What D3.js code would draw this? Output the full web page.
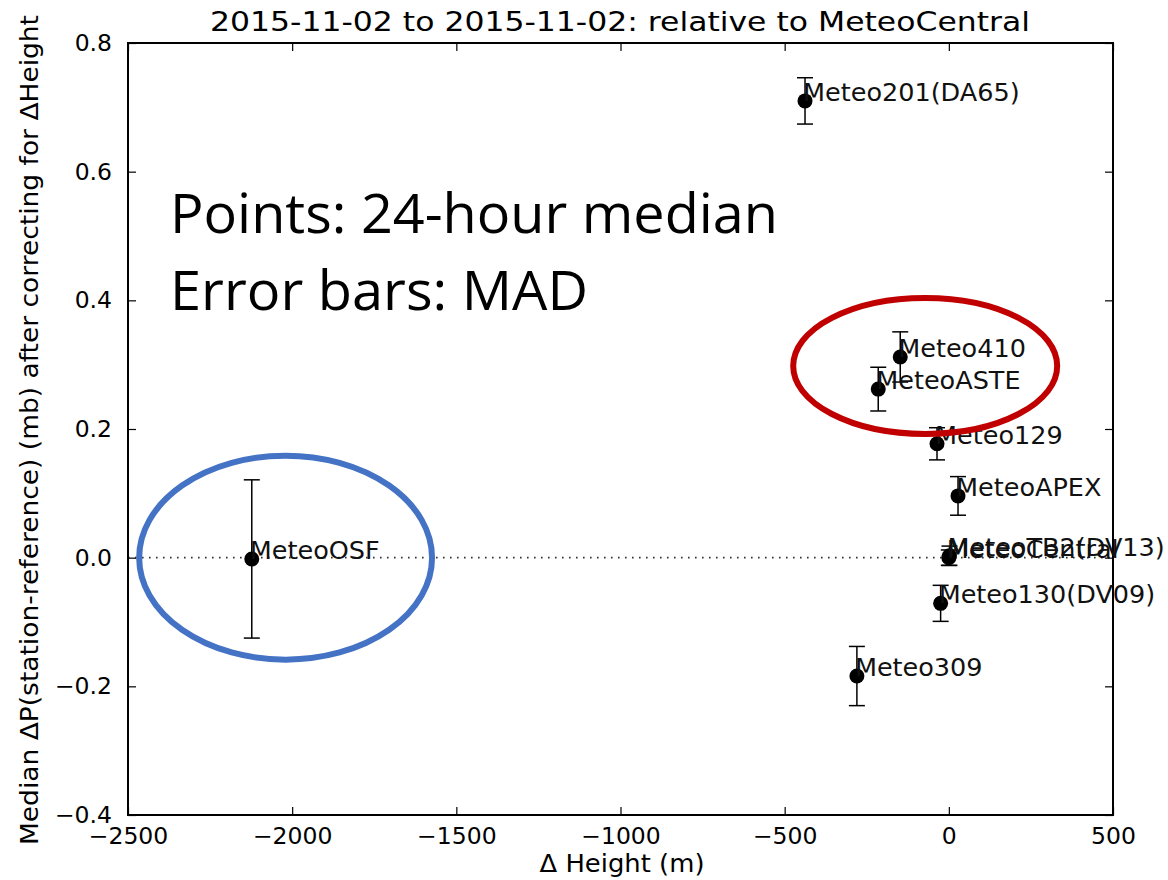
<!DOCTYPE html>
<html>
<head>
<meta charset="utf-8">
<script src="https://cdn.jsdelivr.net/npm/d3@7"></script>
<style>
  body { margin: 0; background: #fff; }
  svg { display: block; }
</style>
</head>
<body>
<svg width="1168" height="880"></svg>
<script>

// station data
var stations = ["Meteo201(DA65)", "Meteo410", "MeteoASTE", "Meteo129", "MeteoAPEX",
                "MeteoTB2(DV13)", "MeteoCentral", "Meteo130(DV09)", "Meteo309", "MeteoOSF"];
var dHeight = [-438, -148, -215, -36, 28, 2, 0, -25, -280, -2123];
var dPress  = [0.710, 0.312, 0.262, 0.177, 0.096, 0.003, 0.0, -0.071, -0.184, -0.002];
var mad     = [0.036, 0.039, 0.034, 0.025, 0.030, 0.015, 0.012, 0.028, 0.046, 0.123];

var xTicks = [-2500, -2000, -1500, -1000, -500, 0, 500];
var yTicks = [-0.4, -0.2, 0.0, 0.2, 0.4, 0.6, 0.8];

// highlight ellipses, in data units: [cx, cy, rx, ry]
var ellipseNames = ["group", "osf"];
var ellipseShape = [[-72, 0.298, 402, 0.1057], [-2020, 0.0, 446, 0.1585]];
var ellipseColor = ["#c00000", "#4472c4"];

var notes = ["Points: 24-hour median", "Error bars: MAD"];

var svg = d3.select("svg"),
    width = +svg.attr("width"),
    height = +svg.attr("height");

var margin = {top: 43, right: 55, bottom: 65, left: 128};

var x = d3.scaleLinear().domain([-2500, 500]).range([margin.left, width - margin.right]);
var y = d3.scaleLinear().domain([-0.4, 0.8]).range([height - margin.bottom, margin.top]);

var font = "DejaVu Sans, sans-serif";
var minus = function(s) { return s.replace("-", "\u2212"); };

var data = stations.map(function(s, i) {
  return {name: s, dh: dHeight[i], dp: dPress[i], err: mad[i]};
});

// zero reference line
svg.append("line")
    .attr("x1", x(-2500)).attr("x2", x(500))
    .attr("y1", y(0)).attr("y2", y(0))
    .attr("stroke", "#333")
    .attr("stroke-width", 1.6)
    .attr("stroke-dasharray", "1.6,5.4");

// axes, matplotlib style: ticks inside on all four sides
var tickLen = 8;
var xAxisB = d3.axisBottom(x).tickValues(xTicks).tickSizeInner(-tickLen).tickSizeOuter(0)
    .tickPadding(12).tickFormat(function(d) { return minus(String(d)); });
var xAxisT = d3.axisTop(x).tickValues(xTicks).tickSizeInner(-tickLen).tickSizeOuter(0).tickFormat("");
var yAxisL = d3.axisLeft(y).tickValues(yTicks).tickSizeInner(-tickLen).tickSizeOuter(0)
    .tickPadding(16).tickFormat(function(d) { return minus(d3.format(".1f")(d)); });
var yAxisR = d3.axisRight(y).tickValues(yTicks).tickSizeInner(-tickLen).tickSizeOuter(0).tickFormat("");

var gxb = svg.append("g").attr("transform", "translate(0," + y.range()[0] + ")").call(xAxisB);
var gxt = svg.append("g").attr("transform", "translate(0," + y.range()[1] + ")").call(xAxisT);
var gyl = svg.append("g").attr("transform", "translate(" + x.range()[0] + ",0)").call(yAxisL);
var gyr = svg.append("g").attr("transform", "translate(" + x.range()[1] + ",0)").call(yAxisR);

[gxb, gxt, gyl, gyr].forEach(function(g) {
  g.select(".domain").remove();
  g.selectAll(".tick line").attr("stroke", "#000").attr("stroke-width", 1.2);
  g.selectAll(".tick text")
      .attr("font-family", font)
      .attr("font-size", 23.5)
      .attr("fill", "#000");
});
gxb.selectAll(".tick text").attr("dy", "0.71em");

// frame
svg.append("rect")
    .attr("x", x.range()[0]).attr("y", y.range()[1])
    .attr("width", x.range()[1] - x.range()[0])
    .attr("height", y.range()[0] - y.range()[1])
    .attr("fill", "none")
    .attr("stroke", "#000")
    .attr("stroke-width", 2);

// error bars
var capW = 8;
var eb = svg.append("g").attr("class", "errorbars")
  .selectAll("g")
  .data(data)
  .enter().append("g");

eb.append("line")
    .attr("x1", function(d) { return x(d.dh); })
    .attr("x2", function(d) { return x(d.dh); })
    .attr("y1", function(d) { return y(d.dp + d.err); })
    .attr("y2", function(d) { return y(d.dp - d.err); });
eb.append("line")
    .attr("x1", function(d) { return x(d.dh) - capW; })
    .attr("x2", function(d) { return x(d.dh) + capW; })
    .attr("y1", function(d) { return y(d.dp + d.err); })
    .attr("y2", function(d) { return y(d.dp + d.err); });
eb.append("line")
    .attr("x1", function(d) { return x(d.dh) - capW; })
    .attr("x2", function(d) { return x(d.dh) + capW; })
    .attr("y1", function(d) { return y(d.dp - d.err); })
    .attr("y2", function(d) { return y(d.dp - d.err); });
eb.selectAll("line").attr("stroke", "#000").attr("stroke-width", 1.5);

// points
svg.append("g").attr("class", "points")
  .selectAll("circle")
  .data(data)
  .enter().append("circle")
    .attr("cx", function(d) { return x(d.dh); })
    .attr("cy", function(d) { return y(d.dp); })
    .attr("r", 7.5)
    .attr("fill", "#000");

// station labels, baseline at the point
svg.append("g").attr("class", "labels")
  .selectAll("text")
  .data(data)
  .enter().append("text")
    .attr("x", function(d) { return x(d.dh) - 2; })
    .attr("y", function(d) { return y(d.dp); })
    .attr("font-family", font)
    .attr("font-size", 25.5)
    .attr("fill", "#111")
    .text(function(d) { return d.name; });

// title and axis labels
svg.append("text")
    .attr("x", 620).attr("y", 31)
    .attr("text-anchor", "middle")
    .attr("font-family", font)
    .attr("font-size", 27)
    .attr("textLength", 820)
    .attr("lengthAdjust", "spacingAndGlyphs")
    .text("2015-11-02 to 2015-11-02: relative to MeteoCentral");

svg.append("text")
    .attr("x", 622).attr("y", 872)
    .attr("text-anchor", "middle")
    .attr("font-family", font)
    .attr("font-size", 24)
    .attr("textLength", 165)
    .attr("lengthAdjust", "spacingAndGlyphs")
    .text("\u0394 Height (m)");

svg.append("text")
    .attr("transform", "translate(38,430) rotate(-90)")
    .attr("text-anchor", "middle")
    .attr("font-family", font)
    .attr("font-size", 24)
    .attr("textLength", 830)
    .attr("lengthAdjust", "spacingAndGlyphs")
    .text("Median \u0394P(station-reference) (mb) after correcting for \u0394Height");

// highlight ellipses
svg.append("g").attr("class", "highlights")
  .selectAll("ellipse")
  .data(ellipseNames)
  .enter().append("ellipse")
    .attr("cx", function(d, i) { return x(ellipseShape[i][0]); })
    .attr("cy", function(d, i) { return y(ellipseShape[i][1]); })
    .attr("rx", function(d, i) { return x(ellipseShape[i][0] + ellipseShape[i][2]) - x(ellipseShape[i][0]); })
    .attr("ry", function(d, i) { return y(ellipseShape[i][1] - ellipseShape[i][3]) - y(ellipseShape[i][1]); })
    .attr("fill", "none")
    .attr("stroke", function(d, i) { return ellipseColor[i]; })
    .attr("stroke-width", 6);

// slide notes
var noteWidths = [608, 418];
svg.append("g").attr("class", "notes")
  .selectAll("text")
  .data(notes)
  .enter().append("text")
    .attr("x", 170)
    .attr("y", function(d, i) { return 233 + i * 77; })
    .attr("font-family", "Open Sans, Lato, sans-serif")
    .attr("font-size", 55)
    .attr("fill", "#000")
    .attr("textLength", function(d, i) { return noteWidths[i]; })
    .attr("lengthAdjust", "spacingAndGlyphs")
    .text(function(d) { return d; });

</script>
</body>
</html>
